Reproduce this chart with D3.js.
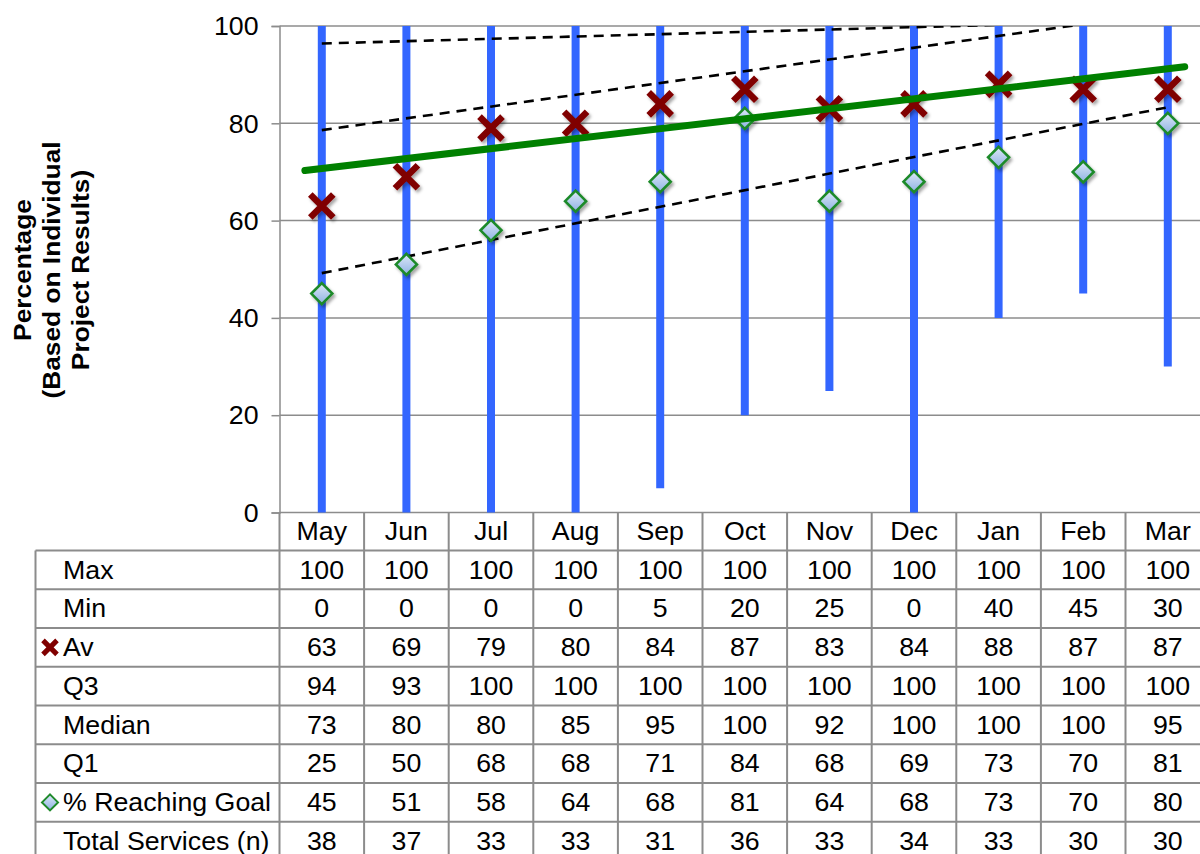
<!DOCTYPE html>
<html>
<head>
<meta charset="utf-8">
<script src="https://cdn.jsdelivr.net/npm/d3@7"></script>
<style>
  html, body { margin: 0; padding: 0; background: #fff; }
  svg { display: block; font-family: "Liberation Sans", Arial, Helvetica, sans-serif; }
</style>
</head>
<body>
<svg id="chart" width="1200" height="854"></svg>
<script>
// Monthly project results
const months = ["May", "Jun", "Jul", "Aug", "Sep", "Oct", "Nov", "Dec", "Jan", "Feb", "Mar"];
const maxVals = [100, 100, 100, 100, 100, 100, 100, 100, 100, 100, 100];
const minVals = [0, 0, 0, 0, 5, 20, 25, 0, 40, 45, 30];
const avVals = [63, 69, 79, 80, 84, 87, 83, 84, 88, 87, 87];
const q3Vals = [94, 93, 100, 100, 100, 100, 100, 100, 100, 100, 100];
const medianVals = [73, 80, 80, 85, 95, 100, 92, 100, 100, 100, 95];
const q1Vals = [25, 50, 68, 68, 71, 84, 68, 69, 73, 70, 81];
const goalVals = [45, 51, 58, 64, 68, 81, 64, 68, 73, 70, 80];
const totalVals = [38, 37, 33, 33, 31, 36, 33, 34, 33, 30, 30];
const yTicks = [0, 20, 40, 60, 80, 100];

// Trend lines: value at the first month and at the last month
const trendNames = ["Q3", "Median", "Q1"];
const trendFrom = [96.4, 78.6, 49.2];
const trendTo = [101.2, 102.8, 83.3];
const avTrend = [70.7, 91.2];

const tableRows = [
  { label: "Max", values: maxVals },
  { label: "Min", values: minVals },
  { label: "Av", values: avVals, marker: "x" },
  { label: "Q3", values: q3Vals },
  { label: "Median", values: medianVals },
  { label: "Q1", values: q1Vals },
  { label: "% Reaching Goal", values: goalVals, marker: "diamond" },
  { label: "Total Services (n)", values: totalVals }
];

const svg = d3.select("#chart");
const W = 1200, H = 854;
const plotLeft = 279.5, plotTop = 26, plotBottom = 512.5;
const band = 84.6;
const tableLeft = 35.5, tableTop = 550.5, rowH = 38.75;
const gridColor = "#8c8c8c";
const fontSize = 25, sx = 1.07;

const x = d3.scaleBand().domain(months).range([plotLeft, plotLeft + band * months.length]).padding(0);
const y = d3.scaleLinear().domain([0, 100]).range([plotBottom, plotTop]);
const cx = m => x(m) + x.bandwidth() / 2;
const xi = d3.scaleLinear().domain([0, months.length - 1]).range([cx(months[0]), cx(months[months.length - 1])]);

const defs = svg.append("defs");
const shadow = defs.append("filter").attr("id", "shadow")
  .attr("x", "-50%").attr("y", "-50%").attr("width", "200%").attr("height", "200%");
shadow.append("feDropShadow").attr("dx", 2).attr("dy", 2.5).attr("stdDeviation", 1.8)
  .attr("flood-color", "#000").attr("flood-opacity", 0.35);
const grad = defs.append("linearGradient").attr("id", "diamondFill")
  .attr("x1", 0).attr("y1", 0).attr("x2", 0).attr("y2", 1);
grad.append("stop").attr("offset", "0%").attr("stop-color", "#dce8f8");
grad.append("stop").attr("offset", "100%").attr("stop-color", "#8fb2e3");
defs.append("clipPath").attr("id", "plotClip").append("rect")
  .attr("x", plotLeft).attr("y", plotTop).attr("width", W - plotLeft).attr("height", plotBottom - plotTop);

// Horizontal gridlines
svg.append("g").selectAll("line").data(yTicks).join("line")
  .attr("x1", plotLeft).attr("x2", W)
  .attr("y1", d => y(d)).attr("y2", d => y(d))
  .attr("stroke", gridColor).attr("stroke-width", 1.5);

// Y axis with tick labels
const yAxis = svg.append("g").attr("transform", `translate(${plotLeft},0)`)
  .call(d3.axisLeft(y).tickValues(yTicks).tickSize(8).tickPadding(13).tickFormat(d3.format("d")));
yAxis.select(".domain").attr("stroke", gridColor).attr("stroke-width", 1.5);
yAxis.selectAll(".tick line").attr("stroke", gridColor).attr("stroke-width", 1.5);
yAxis.selectAll(".tick text")
  .attr("font-size", fontSize).attr("fill", "#000")
  .attr("font-family", "'Liberation Sans', Arial, sans-serif")
  .attr("dy", "0.35em")
  .attr("transform", `scale(${sx},1)`)
  .attr("x", -21 / sx);

// Y axis title
const titleLines = ["Percentage", "(Based on Individual", "Project Results)"];
const titleBase = [31, 60, 89];
svg.append("g").selectAll("text").data(titleLines).join("text")
  .attr("transform", (d, i) => `translate(${titleBase[i]},270) rotate(-90) scale(1.12,1)`)
  .attr("text-anchor", "middle").attr("font-weight", "bold").attr("font-size", 23.5)
  .text(d => d);

// Min–max range bars
svg.append("g").selectAll("line").data(months).join("line")
  .attr("x1", d => cx(d)).attr("x2", d => cx(d))
  .attr("y1", (d, i) => y(minVals[i])).attr("y2", (d, i) => y(maxVals[i]))
  .attr("stroke", "#3366ff").attr("stroke-width", 8);

// Dashed trend lines for Q3, median and Q1
const trendG = svg.append("g").attr("clip-path", "url(#plotClip)");
trendG.selectAll("line").data(trendNames).join("line")
  .attr("x1", xi(0)).attr("x2", xi(months.length - 1))
  .attr("y1", (d, i) => y(trendFrom[i])).attr("y2", (d, i) => y(trendTo[i]))
  .attr("stroke", "#000").attr("stroke-width", 2.6).attr("stroke-dasharray", "10,7");

// Marker shapes
const diamondPath = r => `M0,${-r}L${r},0L0,${r}L${-r},0Z`;
const xPath = s => `M${-s},${-s}L${s},${s}M${-s},${s}L${s},${-s}`;

// % Reaching goal markers
svg.append("g").selectAll("path").data(months).join("path")
  .attr("transform", (d, i) => `translate(${cx(d)},${y(goalVals[i])})`)
  .attr("d", diamondPath(10.5))
  .attr("fill", "url(#diamondFill)").attr("stroke", "#1f8a2a").attr("stroke-width", 2.6)
  .attr("filter", "url(#shadow)");

// Average markers
svg.append("g").selectAll("path").data(months).join("path")
  .attr("transform", (d, i) => `translate(${cx(d)},${y(avVals[i])})`)
  .attr("d", xPath(11.5))
  .attr("stroke", "#800000").attr("stroke-width", 6.5).attr("fill", "none")
  .attr("filter", "url(#shadow)");

// Average trend line, extended 0.2 months at each end
const ext = 0.2, n = months.length - 1;
const avSlope = (avTrend[1] - avTrend[0]) / n;
svg.append("line")
  .attr("x1", xi(-ext)).attr("x2", xi(n + ext))
  .attr("y1", y(avTrend[0] - ext * avSlope)).attr("y2", y(avTrend[1] + ext * avSlope))
  .attr("stroke", "#008000").attr("stroke-width", 7).attr("stroke-linecap", "round");

// Data table
const table = svg.append("g");
const rowTops = tableRows.map((r, i) => tableTop + i * rowH);
// horizontal rules
table.selectAll("line.h").data(rowTops).join("line").attr("class", "h")
  .attr("x1", tableLeft).attr("x2", W)
  .attr("y1", d => d).attr("y2", d => d)
  .attr("stroke", gridColor).attr("stroke-width", 2);
// left border of label column
table.append("line").attr("x1", tableLeft).attr("x2", tableLeft)
  .attr("y1", tableTop).attr("y2", H).attr("stroke", gridColor).attr("stroke-width", 2);
// vertical rules at category boundaries
const bounds = months.map(m => x(m)).concat([x(months[n]) + x.bandwidth()]);
table.selectAll("line.v").data(bounds).join("line").attr("class", "v")
  .attr("x1", d => d).attr("x2", d => d)
  .attr("y1", plotBottom).attr("y2", H)
  .attr("stroke", gridColor).attr("stroke-width", 2);

const placeText = (sel, px, py, anchor) => sel
  .attr("transform", `translate(${px},${py}) scale(${sx},1)`)
  .attr("text-anchor", anchor).attr("font-size", fontSize).attr("dy", "0.35em");

// month header
months.forEach(m => {
  placeText(table.append("text"), cx(m), (plotBottom + tableTop) / 2, "middle").text(m);
});

tableRows.forEach((row, ri) => {
  const midY = rowTops[ri] + rowH / 2;
  placeText(table.append("text"), 63, midY, "start").text(row.label);
  if (row.marker === "x") {
    table.append("path").attr("transform", `translate(50,${midY})`)
      .attr("d", xPath(7)).attr("stroke", "#800000").attr("stroke-width", 5);
  } else if (row.marker === "diamond") {
    table.append("path").attr("transform", `translate(50,${midY})`)
      .attr("d", diamondPath(8)).attr("fill", "url(#diamondFill)")
      .attr("stroke", "#1f8a2a").attr("stroke-width", 2);
  }
  months.forEach((m, ci) => {
    placeText(table.append("text"), cx(m), midY, "middle").text(row.values[ci]);
  });
});
</script>
</body>
</html>
